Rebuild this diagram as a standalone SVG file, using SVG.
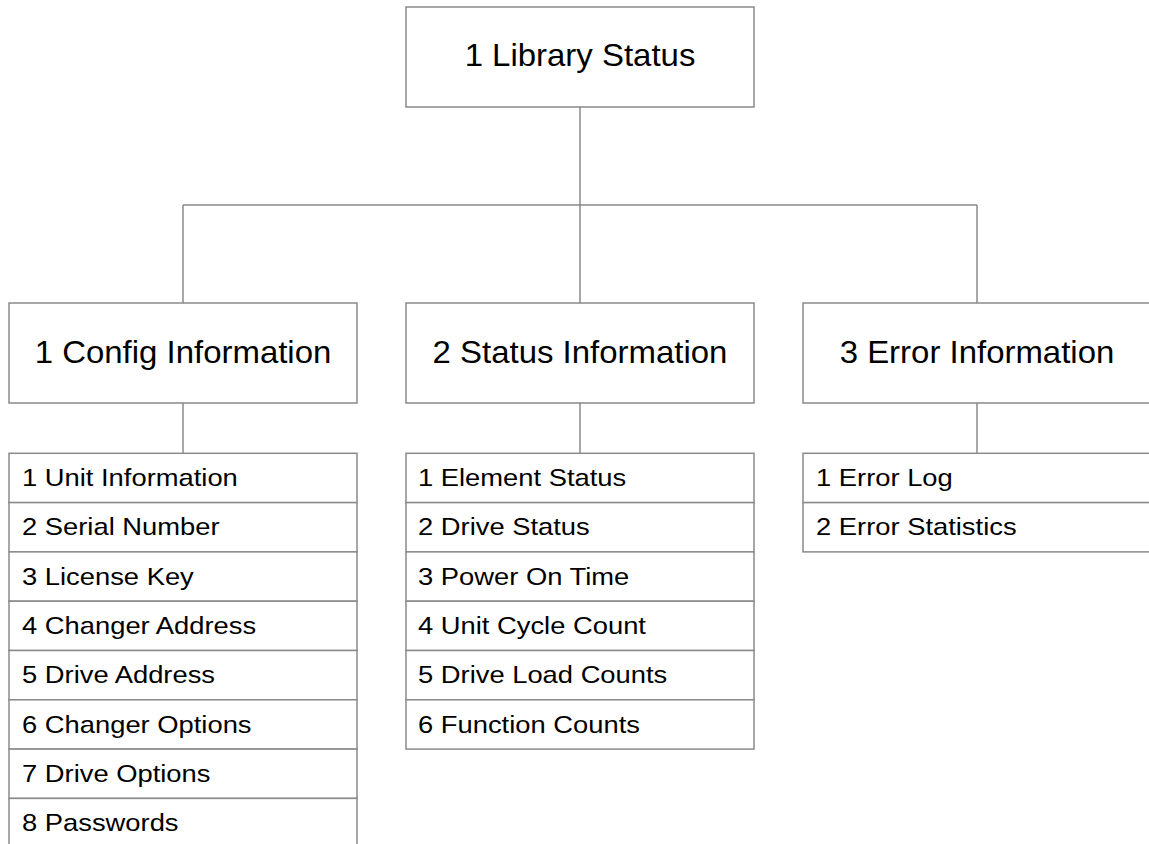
<svg xmlns="http://www.w3.org/2000/svg" width="1149" height="844" viewBox="0 0 1149 844">
<style>
.box{fill:#fff;stroke:#8a8a8a;stroke-width:1.5}
.ln{stroke:#8a8a8a;stroke-width:1.5;fill:none}
.big{font-family:"Liberation Sans",Arial,sans-serif;font-size:32px;fill:#000;text-anchor:middle}
.sm{font-family:"Liberation Sans",Arial,sans-serif;font-size:24px;fill:#000}
</style>
<rect width="1149" height="844" fill="#fff"/>
<g id="connectors">
<path class="ln" d="M580,107V205M183,205H977M183,205V303M580,205V303M977,205V303M183,403V453M580,403V453M977,403V453"/>
</g>
<g id="library-status">
<rect class="box" x="406" y="7" width="348" height="100"/>
<text class="big" transform="translate(580,66) scale(1.03,1)">1 Library Status</text>
</g>
<g id="config-information">
<rect class="box" x="9" y="303" width="348" height="100"/>
<text class="big" transform="translate(183,363) scale(1.03,1)">1 Config Information</text>
</g>
<g id="status-information">
<rect class="box" x="406" y="303" width="348" height="100"/>
<text class="big" transform="translate(580,363) scale(1.03,1)">2 Status Information</text>
</g>
<g id="error-information">
<rect class="box" x="803" y="303" width="348" height="100"/>
<text class="big" transform="translate(977,363) scale(1.03,1)">3 Error Information</text>
</g>
<g id="config-list">
<rect class="box" x="9" y="453.3" width="348" height="49.3"/>
<rect class="box" x="9" y="502.6" width="348" height="49.3"/>
<rect class="box" x="9" y="551.9" width="348" height="49.3"/>
<rect class="box" x="9" y="601.2" width="348" height="49.3"/>
<rect class="box" x="9" y="650.5" width="348" height="49.3"/>
<rect class="box" x="9" y="699.8" width="348" height="49.3"/>
<rect class="box" x="9" y="749.1" width="348" height="49.3"/>
<rect class="box" x="9" y="798.4" width="348" height="49.3"/>
<text class="sm" transform="translate(22,486) scale(1.14,1)">1 Unit Information</text>
<text class="sm" transform="translate(22,535.3) scale(1.14,1)">2 Serial Number</text>
<text class="sm" transform="translate(22,584.6) scale(1.14,1)">3 License Key</text>
<text class="sm" transform="translate(22,633.9) scale(1.14,1)">4 Changer Address</text>
<text class="sm" transform="translate(22,683.2) scale(1.14,1)">5 Drive Address</text>
<text class="sm" transform="translate(22,732.5) scale(1.14,1)">6 Changer Options</text>
<text class="sm" transform="translate(22,781.8) scale(1.14,1)">7 Drive Options</text>
<text class="sm" transform="translate(22,831.1) scale(1.14,1)">8 Passwords</text>
</g>
<g id="status-list">
<rect class="box" x="406" y="453.3" width="348" height="49.3"/>
<rect class="box" x="406" y="502.6" width="348" height="49.3"/>
<rect class="box" x="406" y="551.9" width="348" height="49.3"/>
<rect class="box" x="406" y="601.2" width="348" height="49.3"/>
<rect class="box" x="406" y="650.5" width="348" height="49.3"/>
<rect class="box" x="406" y="699.8" width="348" height="49.3"/>
<text class="sm" transform="translate(418,486) scale(1.14,1)">1 Element Status</text>
<text class="sm" transform="translate(418,535.3) scale(1.14,1)">2 Drive Status</text>
<text class="sm" transform="translate(418,584.6) scale(1.14,1)">3 Power On Time</text>
<text class="sm" transform="translate(418,633.9) scale(1.14,1)">4 Unit Cycle Count</text>
<text class="sm" transform="translate(418,683.2) scale(1.14,1)">5 Drive Load Counts</text>
<text class="sm" transform="translate(418,732.5) scale(1.14,1)">6 Function Counts</text>
</g>
<g id="error-list">
<rect class="box" x="803" y="453.3" width="348" height="49.3"/>
<rect class="box" x="803" y="502.6" width="348" height="49.3"/>
<text class="sm" transform="translate(816,486) scale(1.14,1)">1 Error Log</text>
<text class="sm" transform="translate(816,535.3) scale(1.14,1)">2 Error Statistics</text>
</g>
</svg>
